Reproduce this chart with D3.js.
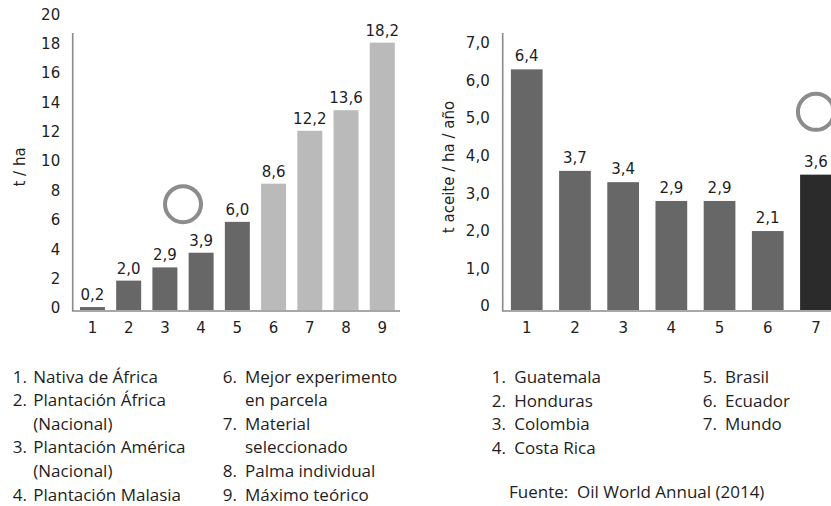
<!DOCTYPE html>
<html>
<head>
<meta charset="utf-8">
<script src="https://cdn.jsdelivr.net/npm/d3@7"></script>
<style>
  html, body { margin: 0; padding: 0; background: #fff; }
  svg { display: block; }
  .num { font-family: "DejaVu Sans", Verdana, sans-serif; font-size: 15px; fill: #1e1e1e; }
  .leg { font-family: "Open Sans", "Noto Sans", sans-serif; font-size: 17px; fill: #1e1e1e; }
</style>
</head>
<body>
<script>
// Rendimiento por hectárea (t/ha) según tipo de plantación
const yieldCats = ["1", "2", "3", "4", "5", "6", "7", "8", "9"];
const yieldVals = [0.2, 2.0, 2.9, 3.9, 6.0, 8.6, 12.2, 13.6, 18.2];
const yieldGroup = ["real", "real", "real", "real", "real", "pot", "pot", "pot", "pot"];
const yieldTicks = [0, 2, 4, 6, 8, 10, 12, 14, 16, 18, 20];

// Aceite por hectárea y año según país
const oilCats = ["1", "2", "3", "4", "5", "6", "7"];
const oilVals = [6.4, 3.7, 3.4, 2.9, 2.9, 2.1, 3.6];
const oilGroup = ["pais", "pais", "pais", "pais", "pais", "pais", "mundo"];
const oilTicks = [0, 1, 2, 3, 4, 5, 6, 7];

// Leyendas
const yieldLegendA = [["1.", "Nativa de África"], ["2.", "Plantación África"], ["", "(Nacional)"],
                      ["3.", "Plantación América"], ["", "(Nacional)"], ["4.", "Plantación Malasia"]];
const yieldLegendB = [["6.", "Mejor experimento"], ["", "en parcela"], ["7.", "Material"],
                      ["", "seleccionado"], ["8.", "Palma individual"], ["9.", "Máximo teórico"]];
const oilLegendA = [["1.", "Guatemala"], ["2.", "Honduras"], ["3.", "Colombia"], ["4.", "Costa Rica"]];
const oilLegendB = [["5.", "Brasil"], ["6.", "Ecuador"], ["7.", "Mundo"]];
const sourceText = "Fuente:\u00a0 Oil World Annual (2014)";

const W = 831, H = 506;
const svg = d3.select("body").append("svg").attr("width", W).attr("height", H);

const comma = v => v === 0 ? "0" : d3.format(".1f")(v).replace(".", ",");
const axisColor = "#8a8a8a";

function barChart(opt) {
  const g = svg.append("g");
  const x = d3.scaleBand().domain(opt.cats).range([opt.x0, opt.x1])
    .paddingInner(opt.pin).paddingOuter(opt.pout);
  const y = d3.scaleLinear().domain(opt.domain).range([opt.base, opt.top]);

  // barras
  g.selectAll("rect.bar").data(opt.vals).join("rect")
    .attr("class", "bar")
    .attr("x", (d, i) => x(opt.cats[i]))
    .attr("width", x.bandwidth())
    .attr("y", d => y(d))
    .attr("height", d => y(0) - y(d))
    .attr("fill", (d, i) => opt.colors[opt.groups[i]]);

  // etiquetas de valor
  g.selectAll("text.val").data(opt.vals).join("text")
    .attr("class", "num")
    .attr("text-anchor", "middle")
    .attr("x", (d, i) => x(opt.cats[i]) + x.bandwidth() / 2)
    .attr("y", d => y(d) - opt.labelGap)
    .text(d => comma(d));

  // eje Y (solo rótulos)
  const ya = g.append("g").attr("transform", `translate(${opt.x0},${opt.tickShift})`)
    .call(d3.axisLeft(y).tickValues(opt.ticks).tickSize(0).tickPadding(opt.tickPad).tickFormat(opt.fmt));
  ya.select(".domain").remove();
  ya.attr("font-size", null).attr("font-family", null);
  ya.selectAll("text").attr("class", "num");

  // eje X (rótulos)
  const xa = g.append("g").attr("transform", `translate(0,${opt.base + 1})`)
    .call(d3.axisBottom(x).tickSize(0).tickPadding(11));
  xa.select(".domain").remove();
  xa.attr("font-size", null).attr("font-family", null);
  xa.selectAll("text").attr("class", "num");

  // líneas de ejes
  g.append("line").attr("x1", opt.x0).attr("x2", opt.x0)
    .attr("y1", opt.axisTop).attr("y2", opt.base + 1)
    .attr("stroke", axisColor).attr("stroke-width", 1.6);
  g.append("line").attr("x1", opt.x0 - 0.8).attr("x2", opt.axisRight)
    .attr("y1", opt.base + 1).attr("y2", opt.base + 1)
    .attr("stroke", axisColor).attr("stroke-width", 1.6);

  // título del eje Y
  g.append("text").attr("class", "num")
    .attr("text-anchor", "middle")
    .attr("transform", `translate(${opt.titleX},${opt.titleY}) rotate(-90)`)
    .text(opt.title);

  // marcador circular
  const m = opt.marker;
  const cx = (x(m.from) + x(m.to)) / 2 + x.bandwidth() / 2;
  g.append("circle").attr("cx", cx).attr("cy", y(m.value)).attr("r", 18)
    .attr("fill", "none").attr("stroke", "#8c8c8c").attr("stroke-width", 4);
}

barChart({
  cats: yieldCats, vals: yieldVals, groups: yieldGroup,
  colors: { real: "#676767", pot: "#bababa" },
  x0: 72.7, x1: 402, pin: 0.31, pout: 0.2,
  domain: [0, 20], base: 310, top: 16.2,
  ticks: yieldTicks, fmt: d => String(d), tickPad: 12.5, tickShift: -2,
  labelGap: 7, axisTop: 33, axisRight: 400,
  title: "t / ha", titleX: 25, titleY: 167,
  marker: { from: "3", to: "4", value: 7.2 }
});

barChart({
  cats: oilCats, vals: oilVals, groups: oilGroup,
  colors: { pais: "#676767", mundo: "#2b2b2b" },
  x0: 502.7, x1: 840, pin: 0.342, pout: 0.17,
  domain: [0, 7], base: 310, top: 46.8,
  ticks: oilTicks, fmt: comma, tickPad: 13, tickShift: -4,
  labelGap: 8, axisTop: 33, axisRight: 831,
  title: "t aceite / ha / año", titleX: 454, titleY: 167,
  marker: { from: "7", to: "7", value: 5.27 }
});

// leyendas numeradas
function legend(items, numX, textX, y0, step) {
  const g = svg.append("g");
  items.forEach((it, i) => {
    const yy = y0 + i * step;
    if (it[0]) g.append("text").attr("class", "leg").attr("x", numX).attr("y", yy).text(it[0]);
    g.append("text").attr("class", "leg").attr("x", textX).attr("y", yy).text(it[1]);
  });
}
legend(yieldLegendA, 12.7, 33.3, 382.5, 23.6);
legend(yieldLegendB, 222.7, 245, 382.5, 23.6);
legend(oilLegendA, 491.7, 514.3, 383, 23.6);
legend(oilLegendB, 702.7, 725, 383, 23.6);

svg.append("text").attr("class", "leg").attr("x", 509).attr("y", 498.3).text(sourceText);
</script>
</body>
</html>
